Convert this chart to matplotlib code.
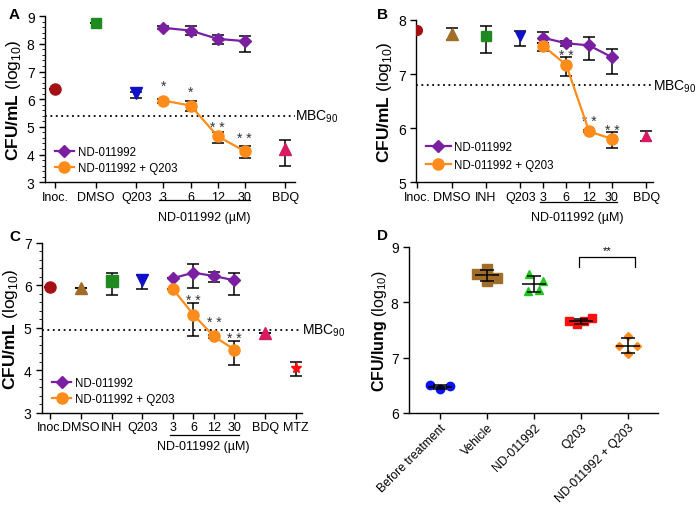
import numpy as np
import matplotlib
matplotlib.use("Agg")
import matplotlib.pyplot as plt
from matplotlib.ticker import AutoMinorLocator
from matplotlib.lines import Line2D

plt.rcParams['font.family'] = ['Liberation Sans', 'DejaVu Sans']
plt.rcParams['mathtext.fontset'] = 'custom'
plt.rcParams['mathtext.rm'] = 'Liberation Sans'
plt.rcParams['mathtext.bf'] = 'Liberation Sans:bold'
plt.rcParams['axes.linewidth'] = 1.0

# ---------------- data: panel A ----------------
a_ticks = ['Inoc.', 'DMSO', 'Q203', '3', '6', '12', '30', 'BDQ']
a_ctrl_mean = [6.37, 8.76, 6.22, 4.20]
a_ctrl_lo = [0.0, 0.0, 0.18, 0.62]
a_ctrl_hi = [0.0, 0.0, 0.05, 0.31]
a_nd_mean = [8.58, 8.48, 8.18, 8.10]
a_nd_lo = [0.05, 0.15, 0.20, 0.38]
a_nd_hi = [0.05, 0.15, 0.15, 0.20]
a_combo_mean = [5.95, 5.77, 4.66, 4.12]
a_combo_lo = [0.07, 0.21, 0.26, 0.25]
a_combo_hi = [0.07, 0.16, 0.14, 0.18]
a_stars = ['*', '*', '* *', '* *']
a_star_y = [6.50, 6.26, 5.00, 4.61]
a_mbc = 5.39

# ---------------- data: panel B ----------------
b_ticks = ['Inoc.', 'DMSO', 'INH', 'Q203', '3', '6', '12', '30', 'BDQ']
b_ctrl_mean = [7.81, 7.74, 7.70, 7.70, 5.86]
b_ctrl_lo = [0.0, 0.11, 0.31, 0.18, 0.09]
b_ctrl_hi = [0.0, 0.11, 0.19, 0.10, 0.08]
b_nd_mean = [7.67, 7.57, 7.53, 7.31]
b_nd_lo = [0.09, 0.06, 0.27, 0.30]
b_nd_hi = [0.11, 0.04, 0.16, 0.16]
b_combo_mean = [7.52, 7.17, 5.94, 5.80]
b_combo_lo = [0.09, 0.21, 0.02, 0.17]
b_combo_hi = [0.06, 0.14, 0.02, 0.13]
b_stars = ['* *', '* *', '* *']
b_star_y = [7.36, 6.13, 5.97]
b_mbc = 6.79

# ---------------- data: panel C ----------------
c_ticks = ['Inoc.', 'DMSO', 'INH', 'Q203', '3', '6', '12', '30', 'BDQ', 'MTZ']
c_ctrl_mean = [5.96, 5.94, 6.10, 6.12, 4.87, 4.05]
c_ctrl_lo = [0.0, 0.0, 0.32, 0.21, 0.0, 0.19]
c_ctrl_hi = [0.0, 0.0, 0.19, 0.13, 0.0, 0.15]
c_nd_mean = [6.17, 6.30, 6.22, 6.12]
c_nd_lo = [0.0, 0.36, 0.13, 0.34]
c_nd_hi = [0.0, 0.20, 0.09, 0.18]
c_combo_mean = [5.91, 5.31, 4.80, 4.49]
c_combo_lo = [0.0, 0.51, 0.03, 0.37]
c_combo_hi = [0.0, 0.28, 0.03, 0.21]
c_stars = ['* *', '* *', '* *']
c_star_y = [5.65, 5.13, 4.76]
c_mbc = 4.95

# ---------------- data: panel D ----------------
d_groups = ['Before treatment', 'Vehicle', 'ND-011992', 'Q203', 'ND-011992 + Q203']
d_before = [6.50, 6.43, 6.49]
d_vehicle = [8.51, 8.61, 8.39, 8.44]
d_nd = [8.51, 8.39, 8.21, 8.23]
d_q203 = [7.66, 7.60, 7.66, 7.71]
d_combo = [7.39, 7.21, 7.21, 7.06]

# ---------------- styles ----------------
PURPLE = '#7a1fa2'
ORANGE = '#ff8c1a'
DARKRED = '#a50f15'
GREEN = '#1f8a1f'
BLUE = '#1010c8'
BROWN = '#a06e28'
MAGENTA = '#d81b60'
RED = '#ff1010'

fig = plt.figure(figsize=(6.96, 5.06), dpi=100)
axA = fig.add_axes([0.0647, 0.638, 0.359, 0.328])
axB = fig.add_axes([0.598, 0.638, 0.3405, 0.3205])
axC = fig.add_axes([0.0603, 0.182, 0.3736, 0.336])
axD = fig.add_axes([0.5876, 0.182, 0.3578, 0.328])


def eb(ax, x, y, lo, hi, color, marker, ms=7, line=False, z=3):
    ax.errorbar(x, y, yerr=[lo, hi], fmt='none', ecolor='black',
                elinewidth=1.1, capsize=4, capthick=1.1, zorder=z)
    ax.plot(x, y, linestyle='-' if line else 'none', color=color,
            lw=1.6, marker=marker, ms=ms, mfc=color, mec=color, zorder=z + 1)


def dose_panel(ax, xpos, ticks, ctrl_x, ctrl_mean, ctrl_lo, ctrl_hi, ctrl_style,
               dose_x, nd, combo, star_x, stars, star_y, mbc, ylim, line_y, text_y):
    fs = 9
    for x, m, lo, hi, (c, mk, ms) in zip(ctrl_x, ctrl_mean, ctrl_lo, ctrl_hi, ctrl_style):
        eb(ax, [x], [m], [lo], [hi], c, mk, ms=ms)
    eb(ax, dose_x, nd[0], nd[1], nd[2], PURPLE, 'D', ms=6, line=True)
    eb(ax, dose_x, combo[0], combo[1], combo[2], ORANGE, 'o', ms=8, line=True, z=5)
    for x, s, y in zip(star_x, stars, star_y):
        ax.text(x, y, s, ha='center', va='center', fontsize=10, color='#333333')
    ax.axhline(mbc, color='black', ls=(0, (1, 2)), lw=1.3, zorder=1)
    ax.text(1.0, mbc, 'MBC$_{90}$', transform=ax.get_yaxis_transform(),
            ha='left', va='center', fontsize=10, clip_on=False)
    ax.set_xticks(xpos)
    ax.set_xticklabels(ticks, fontsize=fs)
    ax.set_ylim(*ylim)
    ax.set_yticks(np.arange(ylim[0], ylim[1] + 1))
    ax.tick_params(axis='y', labelsize=10, length=4, width=1)
    ax.tick_params(axis='x', length=4, width=1, pad=2)
    for sp in ['top', 'right']:
        ax.spines[sp].set_visible(False)
    ax.set_ylabel(r'$\mathbf{CFU/mL}$ (log$_{10}$)', fontsize=12.5, labelpad=3)
    ax.plot([dose_x[0] - 0.15, dose_x[-1] + 0.2], [line_y, line_y], color='black',
            lw=0.9, transform=ax.get_xaxis_transform(), clip_on=False)
    ax.text((dose_x[0] + dose_x[-1]) / 2, text_y, 'ND-011992 (µM)', ha='center', va='center',
            fontsize=fs, transform=ax.get_xaxis_transform())
    handles = [Line2D([], [], color=PURPLE, marker='D', ms=6, lw=1.6),
               Line2D([], [], color=ORANGE, marker='o', ms=8, lw=1.6)]
    return handles


leg_kw = dict(loc='lower left', frameon=False, fontsize=8.3, borderaxespad=0.0,
              handletextpad=0.3)

# Panel A
xa = [0, 1.5, 3, 4, 5, 6, 7, 8.5]
h = dose_panel(axA, xa, a_ticks, [0, 1.5, 3, 8.5], a_ctrl_mean, a_ctrl_lo, a_ctrl_hi,
               [(DARKRED, 'o', 8), (GREEN, 's', 7), (BLUE, 'v', 8), (MAGENTA, '^', 8)],
               [4, 5, 6, 7], (a_nd_mean, a_nd_lo, a_nd_hi), (a_combo_mean, a_combo_lo, a_combo_hi),
               [4, 5, 6, 7], a_stars, a_star_y, a_mbc, (3, 9), -0.105, -0.21)
axA.set_xlim(-0.37, 8.85)
axA.yaxis.set_minor_locator(AutoMinorLocator(5))
axA.tick_params(axis='y', which='minor', length=2)
axA.legend(h, ['ND-011992', 'ND-011992 + Q203'], handlelength=1.7, labelspacing=0.35,
           bbox_to_anchor=(0.02, 0.02), **leg_kw)

# Panel B
xb = [0, 1.5, 3, 4.5, 5.5, 6.5, 7.5, 8.5, 10]
h = dose_panel(axB, xb, b_ticks, [0, 1.5, 3, 4.5, 10], b_ctrl_mean, b_ctrl_lo, b_ctrl_hi,
               [(DARKRED, 'o', 7), (BROWN, '^', 8), (GREEN, 's', 7), (BLUE, 'v', 6.5), (MAGENTA, '^', 7)],
               [5.5, 6.5, 7.5, 8.5], (b_nd_mean, b_nd_lo, b_nd_hi), (b_combo_mean, b_combo_lo, b_combo_hi),
               [6.5, 7.5, 8.5], b_stars, b_star_y, b_mbc, (5, 8), -0.125, -0.215)
axB.set_xlim(-0.05, 10.3)
axB.legend(h, ['ND-011992', 'ND-011992 + Q203'], handlelength=2.2, labelspacing=0.55,
           bbox_to_anchor=(0.02, 0.04), **leg_kw)

# Panel C
xc = [0, 1.5, 3, 4.5, 6, 7, 8, 9, 10.5, 12]
h = dose_panel(axC, xc, c_ticks, [0, 1.5, 3, 4.5, 10.5, 12], c_ctrl_mean, c_ctrl_lo, c_ctrl_hi,
               [(DARKRED, 'o', 8), (BROWN, '^', 9), (GREEN, 's', 8), (BLUE, 'v', 8),
                (MAGENTA, '^', 8), (RED, '*', 8)],
               [6, 7, 8, 9], (c_nd_mean, c_nd_lo, c_nd_hi), (c_combo_mean, c_combo_lo, c_combo_hi),
               [7, 8, 9], c_stars, c_star_y, c_mbc, (3, 7), -0.13, -0.195)
axC.set_xlim(-0.4, 12.3)
axC.yaxis.set_minor_locator(AutoMinorLocator(5))
axC.tick_params(axis='y', which='minor', length=2)
axC.legend(h, ['ND-011992', 'ND-011992 + Q203'], handlelength=1.7, labelspacing=0.3,
           bbox_to_anchor=(0.02, 0.02), **leg_kw)

# Panel D
d_data = [d_before, d_vehicle, d_nd, d_q203, d_combo]
d_jitter = [[-0.21, 0, 0.21], [-0.22, 0, 0, 0.21], [-0.11, 0.2, -0.12, 0.1],
            [-0.26, -0.09, 0.06, 0.24], [0, -0.2, 0.2, 0]]
d_style = [('#0a14f0', 'o', 6), (BROWN, 's', 6.5), ('#1ec81e', '^', 6), (RED, 's', 5.5), (ORANGE, 'D', 4.5)]
for i, (vals, jit, (c, mk, ms)) in enumerate(zip(d_data, d_jitter, d_style)):
    axD.plot(np.array(jit) + i, vals, ls='none', marker=mk, ms=ms, color=c, zorder=3)
    m = np.mean(vals)
    sd = np.std(vals, ddof=1)
    axD.hlines(m, i - 0.25, i + 0.25, color='black', lw=1.1, zorder=4)
    axD.errorbar([i], [m], yerr=[sd], fmt='none', ecolor='black', elinewidth=1.1,
                 capsize=5, capthick=1.1, zorder=4)
axD.plot([2.95, 2.95, 4.15, 4.15], [8.64, 8.82, 8.82, 8.64], color='black', lw=0.9)
axD.text(3.55, 8.86, '**', ha='center', va='bottom', fontsize=8)
axD.set_xlim(-0.66, 4.64)
axD.set_ylim(6, 9)
axD.set_yticks([6, 7, 8, 9])
axD.set_xticks(range(5))
axD.set_xticklabels(d_groups, rotation=45, ha='right', rotation_mode='anchor', fontsize=8.7)
axD.tick_params(axis='y', labelsize=10, length=4, width=1)
axD.tick_params(axis='x', length=4, width=1, pad=2)
for sp in ['top', 'right']:
    axD.spines[sp].set_visible(False)
axD.set_ylabel(r'$\mathbf{CFU/lung}$ (log$_{10}$)', fontsize=11.5, labelpad=1)

fig.text(0.013, 0.985, 'A', fontsize=11, fontweight='bold', va='top')
fig.text(0.541, 0.985, 'B', fontsize=11, fontweight='bold', va='top')
fig.text(0.013, 0.545, 'C', fontsize=11, fontweight='bold', va='top')
fig.text(0.541, 0.548, 'D', fontsize=11, fontweight='bold', va='top')

fig.savefig('out.png', dpi=100)
